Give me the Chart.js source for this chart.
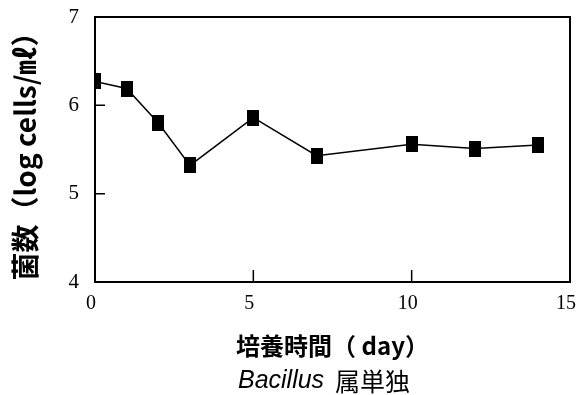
<!DOCTYPE html>
<html>
<head>
<meta charset="utf-8">
<script src="https://cdn.jsdelivr.net/npm/chart.js@4/dist/chart.umd.min.js"></script>
<style>
  html, body { margin: 0; padding: 0; background: #fff; }
  #box { width: 576px; height: 395px; }
</style>
</head>
<body>
<div id="box"><canvas id="chart"></canvas></div>
<script>
// culture time (day) and cell counts (log cells/mL)
const days = [0, 1, 2, 3, 5, 7, 10, 12, 14];
const logCells = [6.27, 6.19, 5.80, 5.32, 5.86, 5.43, 5.56, 5.51, 5.55];
const yTicks = [4, 5, 6, 7];
const xTicks = [0, 5, 10, 15];

// black rectangle marker (slightly taller than wide, like the original)
const marker = document.createElement('canvas');
marker.width = 12;
marker.height = 16;
const mctx = marker.getContext('2d');
mctx.fillStyle = '#000';
mctx.fillRect(0, 0, 12, 16);

// frame + inward ticks + bottom caption
const framePlugin = {
    id: 'frame',
    afterDraw(chart) {
        const ctx = chart.ctx;
        const a = chart.chartArea;
        const xs = chart.scales.x;
        const ys = chart.scales.y;
        ctx.save();
        ctx.strokeStyle = '#000';
        ctx.lineWidth = 2;
        ctx.strokeRect(a.left, a.top, a.right - a.left, a.bottom - a.top);
        ctx.lineWidth = 1.5;
        ctx.beginPath();
        yTicks.forEach(v => {
            const py = ys.getPixelForValue(v);
            ctx.moveTo(a.left, py);
            ctx.lineTo(a.left + 10, py);
        });
        xTicks.forEach(v => {
            const px = xs.getPixelForValue(v);
            ctx.moveTo(px, a.bottom);
            ctx.lineTo(px, a.bottom - 12);
        });
        ctx.stroke();

        // caption: "Bacillus 属単独"
        ctx.fillStyle = '#000';
        ctx.textBaseline = 'middle';
        const it = 'italic 25px "Liberation Sans", Arial, sans-serif';
        const jp = '25px "Noto Sans CJK JP", sans-serif';
        ctx.font = it;
        const w1 = ctx.measureText('Bacillus ').width;
        ctx.font = jp;
        const w2 = ctx.measureText('属単独').width;
        const x0 = 324 - (w1 + w2 + 4) / 2;
        ctx.font = it;
        ctx.fillText('Bacillus ', x0, 381);
        ctx.font = jp;
        ctx.fillText('属単独', x0 + w1 + 4, 381);
        ctx.restore();
    }
};

new Chart(document.getElementById('chart'), {
    type: 'line',
    data: {
        datasets: [{
            data: days.map((d, i) => ({ x: d, y: logCells[i] })),
            borderColor: '#000',
            borderWidth: 1.5,
            pointStyle: marker,
            pointRadius: 8,
            tension: 0
        }]
    },
    options: {
        responsive: true,
        maintainAspectRatio: false,
        animation: false,
        layout: { autoPadding: false, padding: { top: 17, right: 6, left: 0, bottom: 0 } },
        plugins: { legend: { display: false }, tooltip: { enabled: false } },
        scales: {
            x: {
                type: 'linear',
                min: 0,
                max: 15,
                afterFit: s => { s.height = 113; s.paddingLeft = 0; s.paddingRight = 0; },
                afterBuildTicks: s => { s.ticks = xTicks.map(v => ({ value: v })); },
                grid: { display: false, drawTicks: false },
                border: { display: false },
                ticks: {
                    padding: 10,
                    labelOffset: -4,
                    color: '#000',
                    font: { family: '"Liberation Serif", serif', size: 20 }
                },
                title: {
                    display: true,
                    text: '培養時間（ day）',
                    color: '#000',
                    font: { family: '"Noto Sans CJK JP", sans-serif', size: 24, weight: 'bold' },
                    padding: { top: 4, bottom: 35 }
                }
            },
            y: {
                min: 4,
                max: 7,
                afterFit: s => { s.width = 95; s.paddingTop = 0; s.paddingBottom = 0; },
                afterBuildTicks: s => { s.ticks = yTicks.map(v => ({ value: v })); },
                grid: { display: false, drawTicks: false },
                border: { display: false },
                ticks: {
                    padding: 16,
                    color: '#000',
                    font: { family: '"Liberation Serif", serif', size: 21 }
                },
                title: {
                    display: true,
                    text: '菌数（log cells/㎖）',
                    color: '#000',
                    font: { family: '"Noto Sans CJK JP", sans-serif', size: 28, weight: 'bold' },
                    padding: { top: 9, bottom: 0 }
                }
            }
        }
    },
    plugins: [framePlugin]
});
</script>
</body>
</html>
